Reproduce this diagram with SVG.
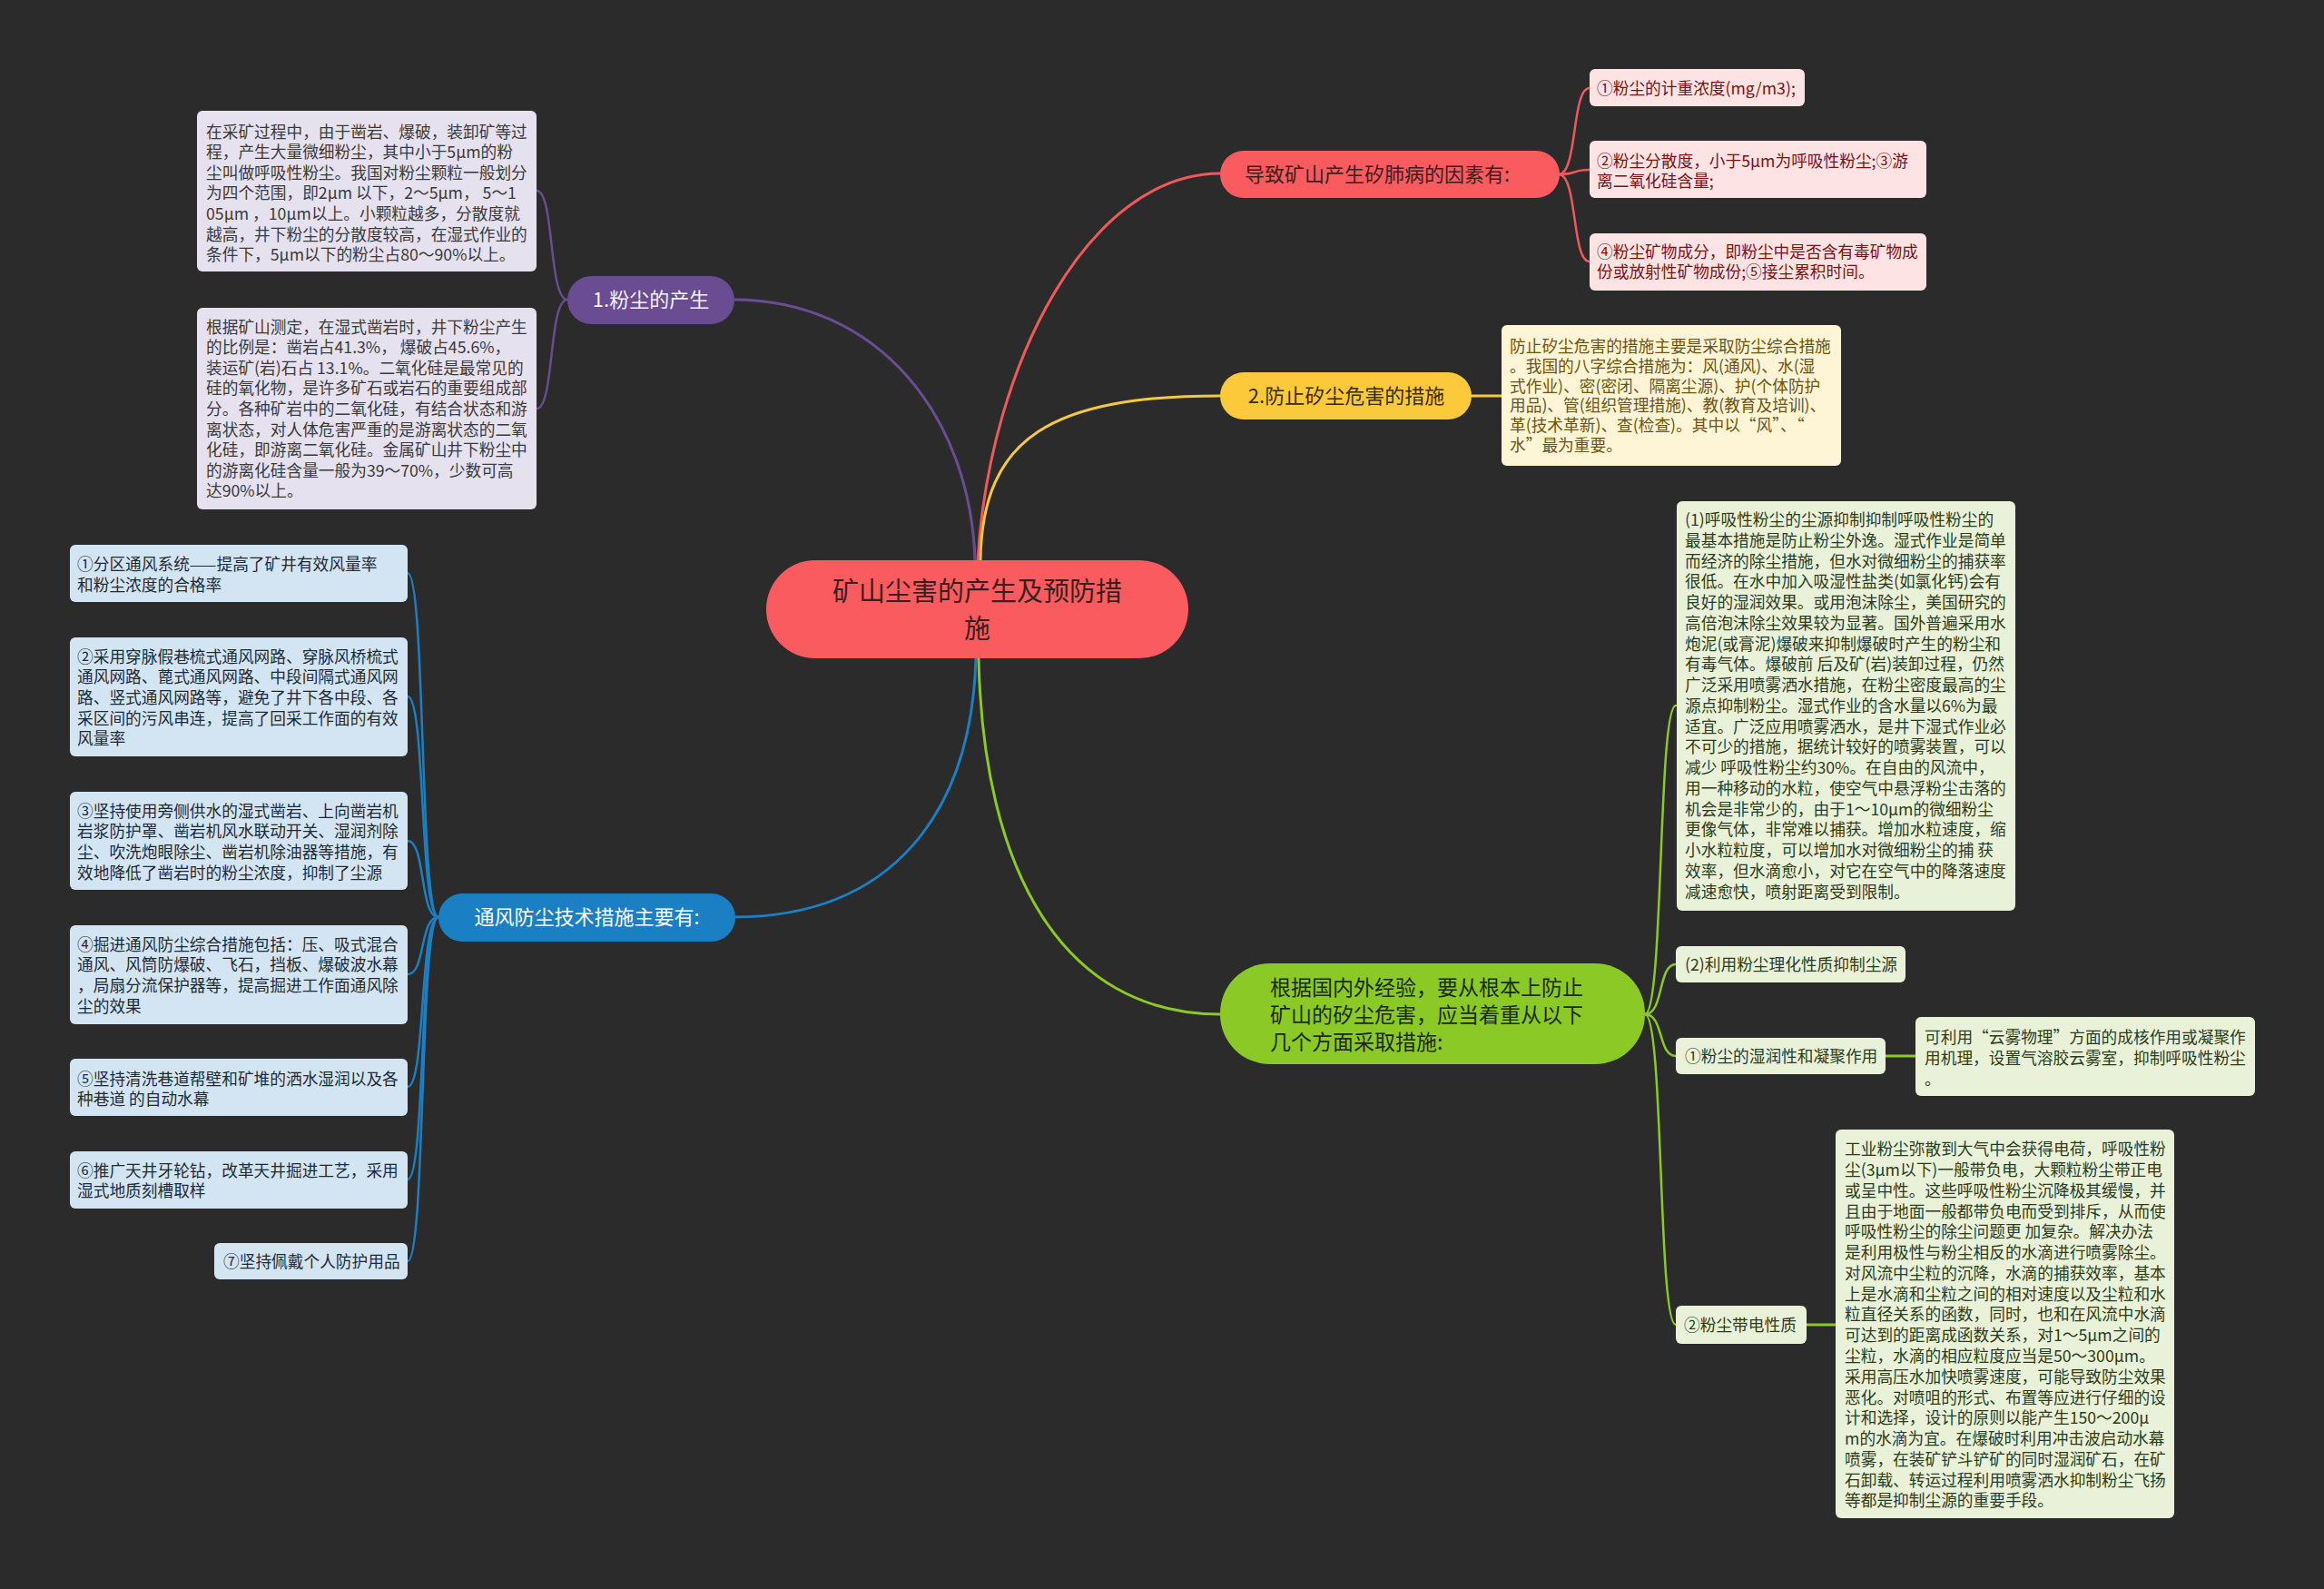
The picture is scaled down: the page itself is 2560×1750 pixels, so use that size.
<svg xmlns="http://www.w3.org/2000/svg" width="2560" height="1750" viewBox="0 0 2560 1750">
<style>
text{font-family:"Noto Sans CJK SC","Noto Sans",sans-serif;}
.leaf{font-size:17.7px;}
.lp{fill:#e6e1ef;} .tp{fill:#3a3a3a;}
.lb{fill:#d3e5f3;} .tb{fill:#1e2b36;}
.lr{fill:#fde3e4;} .tr{fill:#7a1212;}
.ly{fill:#fdf5d5;} .ty{fill:#6e5310;}
.lg{fill:#e9f2d9;} .tg{fill:#2c3b1a;}
.c{fill:none;stroke-linecap:round;}
.big{font-size:22px;}
.root{font-size:29px;fill:#3d1e1e;}
</style>
<rect width="2560" height="1750" fill="#2b2b2b"/>
<g id="connectors">
  <path class="c" stroke="#f0595c" stroke-width="3" d="M1077 617 C1090 400 1200 191 1344 191"/>
  <path class="c" stroke="#f5c842" stroke-width="3" d="M1080 617 C1082 481 1159 436 1344 436"/>
  <path class="c" stroke="#6a4c93" stroke-width="3" d="M1074 617 C1069 459 968 330 808 330"/>
  <path class="c" stroke="#1b7fc4" stroke-width="3" d="M1075 725 C1070 896 982 1010 808 1010"/>
  <path class="c" stroke="#8ac926" stroke-width="3" d="M1078 725 C1083 960 1171 1117 1344 1117"/>
  <g stroke="#f0595c" stroke-width="2.5" class="c">
    <path d="M1717 192 C1738 192 1731 97 1751 97"/>
    <path d="M1717 192 C1738 192 1731 187 1751 187"/>
    <path d="M1717 192 C1738 192 1731 288 1751 288"/>
  </g>
  <path class="c" stroke="#f5c842" stroke-width="3" d="M1621 436 H1654"/>
  <g stroke="#6a4c93" stroke-width="2.5" class="c">
    <path d="M625 330 C604 330 611 210 591 210"/>
    <path d="M625 330 C604 330 611 450 591 450"/>
  </g>
  <g stroke="#1b7fc4" stroke-width="2.5" class="c">
    <path d="M483 1010 C462 1010 469 631 449 631"/>
    <path d="M483 1010 C462 1010 469 767 449 767"/>
    <path d="M483 1010 C462 1010 469 926 449 926"/>
    <path d="M483 1010 C462 1010 469 1073 449 1073"/>
    <path d="M483 1010 C462 1010 469 1197 449 1197"/>
    <path d="M483 1010 C462 1010 469 1299 449 1299"/>
    <path d="M483 1010 C462 1010 469 1389 449 1389"/>
  </g>
  <g stroke="#8ac926" stroke-width="2.5" class="c">
    <path d="M1812 1117 C1833 1117 1826 777 1846 777"/>
    <path d="M1812 1117 C1833 1117 1826 1062 1846 1062"/>
    <path d="M1812 1117 C1833 1117 1826 1163 1846 1163"/>
    <path d="M1812 1117 C1833 1117 1826 1459 1846 1459"/>
    <path d="M2077 1163 H2110" stroke-width="3"/>
    <path d="M1990 1459 H2022" stroke-width="3"/>
  </g>
</g>
<g id="root">
  <rect x="844" y="617" width="465" height="108" rx="54" fill="#f95b5e"/>
  <text x="1076.5" y="662" class="root" text-anchor="middle">矿山尘害的产生及预防措</text>
  <text x="1076.5" y="703" class="root" text-anchor="middle">施</text>
</g>
<g id="n-red">
  <rect x="1344" y="166" width="374" height="52" rx="26" fill="#f95b5e"/>
  <text x="1371" y="200" class="big" fill="#3d1e1e">导致矿山产生矽肺病的因素有:</text>
</g>
<g id="n-red-1">
  <rect x="1751" y="76" width="237" height="41" rx="6" class="lr"/>
  <text x="1759" y="103.5" class="leaf tr">①粉尘的计重浓度(mg/m3);</text>
</g>
<g id="n-red-2">
  <rect x="1751" y="155" width="371" height="63" rx="6" class="lr"/>
  <text x="1759" y="183.5" class="leaf tr">②粉尘分散度，小于5μm为呼吸性粉尘;③游<tspan x="1759" dy="22">离二氧化硅含量;</tspan></text>
</g>
<g id="n-red-3">
  <rect x="1751" y="257" width="371" height="63" rx="6" class="lr"/>
  <text x="1759" y="284" class="leaf tr">④粉尘矿物成分，即粉尘中是否含有毒矿物成<tspan x="1759" dy="22">份或放射性矿物成份;⑤接尘累积时间。</tspan></text>
</g>
<g id="n-yellow">
  <rect x="1344" y="410" width="277" height="52" rx="26" fill="#fcc93b"/>
  <text x="1483" y="444" class="big" fill="#3a2a00" text-anchor="middle">2.防止矽尘危害的措施</text>
</g>
<g id="n-yellow-1">
  <rect x="1654" y="358" width="374" height="155" rx="6" class="ly"/>
  <text x="1663" y="388.2" class="leaf ty">防止矽尘危害的措施主要是采取防尘综合措施<tspan x="1663" dy="21.7">。我国的八字综合措施为：风(通风)、水(湿</tspan><tspan x="1663" dy="21.7">式作业)、密(密闭、隔离尘源)、护(个体防护</tspan><tspan x="1663" dy="21.7">用品)、管(组织管理措施)、教(教育及培训)、</tspan><tspan x="1663" dy="21.7">革(技术革新)、查(检查)。其中以“风”、“</tspan><tspan x="1663" dy="21.7">水”最为重要。</tspan></text>
</g>
<g id="n-purple">
  <rect x="625" y="304" width="184" height="53" rx="26.5" fill="#6a4c93"/>
  <text x="717" y="338" class="big" fill="#f4f0f8" text-anchor="middle">1.粉尘的产生</text>
</g>
<g id="n-purple-1">
  <rect x="217" y="122" width="374" height="177" rx="6" class="lp"/>
  <text x="227" y="151.5" class="leaf tp">在采矿过程中，由于凿岩、爆破，装卸矿等过<tspan x="227" dy="22.6">程，产生大量微细粉尘，其中小于5μm的粉</tspan><tspan x="227" dy="22.6">尘叫做呼吸性粉尘。我国对粉尘颗粒一般划分</tspan><tspan x="227" dy="22.6">为四个范围，即2μm 以下，2～5μm， 5～1</tspan><tspan x="227" dy="22.6">05μm ，10μm以上。小颗粒越多，分散度就</tspan><tspan x="227" dy="22.6">越高，井下粉尘的分散度较高，在湿式作业的</tspan><tspan x="227" dy="22.6">条件下，5μm以下的粉尘占80～90%以上。</tspan></text>
</g>
<g id="n-purple-2">
  <rect x="217" y="339" width="374" height="222" rx="6" class="lp"/>
  <text x="227" y="366.5" class="leaf tp">根据矿山测定，在湿式凿岩时，井下粉尘产生<tspan x="227" dy="22.6">的比例是：凿岩占41.3%， 爆破占45.6%，</tspan><tspan x="227" dy="22.6">装运矿(岩)石占 13.1%。二氧化硅是最常见的</tspan><tspan x="227" dy="22.6">硅的氧化物，是许多矿石或岩石的重要组成部</tspan><tspan x="227" dy="22.6">分。各种矿岩中的二氧化硅，有结合状态和游</tspan><tspan x="227" dy="22.6">离状态，对人体危害严重的是游离状态的二氧</tspan><tspan x="227" dy="22.6">化硅，即游离二氧化硅。金属矿山井下粉尘中</tspan><tspan x="227" dy="22.6">的游离化硅含量一般为39～70%，少数可高</tspan><tspan x="227" dy="22.6">达90%以上。</tspan></text>
</g>
<g id="n-blue">
  <rect x="483" y="984" width="327" height="53" rx="26.5" fill="#1b7fc4"/>
  <text x="646.5" y="1018" class="big" fill="#ffffff" text-anchor="middle">通风防尘技术措施主要有:</text>
</g>
<g id="n-blue-1">
  <rect x="77" y="600" width="372" height="63" rx="6" class="lb"/>
  <text x="85" y="628.2" class="leaf tb">①分区通风系统——提高了矿井有效风量率<tspan x="85" dy="22.7">和粉尘浓度的合格率</tspan></text>
</g>
<g id="n-blue-2">
  <rect x="77" y="702" width="372" height="131" rx="6" class="lb"/>
  <text x="85" y="729.5" class="leaf tb">②采用穿脉假巷梳式通风网路、穿脉风桥梳式<tspan x="85" dy="22.7">通风网路、蓖式通风网路、中段间隔式通风网</tspan><tspan x="85" dy="22.7">路、竖式通风网路等，避免了井下各中段、各</tspan><tspan x="85" dy="22.7">采区间的污风串连，提高了回采工作面的有效</tspan><tspan x="85" dy="22.7">风量率</tspan></text>
</g>
<g id="n-blue-3">
  <rect x="77" y="872" width="372" height="108" rx="6" class="lb"/>
  <text x="85" y="899.5" class="leaf tb">③坚持使用旁侧供水的湿式凿岩、上向凿岩机<tspan x="85" dy="22.7">岩浆防护罩、凿岩机风水联动开关、湿润剂除</tspan><tspan x="85" dy="22.7">尘、吹洗炮眼除尘、凿岩机除油器等措施，有</tspan><tspan x="85" dy="22.7">效地降低了凿岩时的粉尘浓度，抑制了尘源</tspan></text>
</g>
<g id="n-blue-4">
  <rect x="77" y="1019" width="372" height="109" rx="6" class="lb"/>
  <text x="85" y="1046.5" class="leaf tb">④掘进通风防尘综合措施包括：压、吸式混合<tspan x="85" dy="22.7">通风、风筒防爆破、飞石，挡板、爆破波水幕</tspan><tspan x="85" dy="22.7">，局扇分流保护器等，提高掘进工作面通风除</tspan><tspan x="85" dy="22.7">尘的效果</tspan></text>
</g>
<g id="n-blue-5">
  <rect x="77" y="1166" width="372" height="63" rx="6" class="lb"/>
  <text x="85" y="1194.5" class="leaf tb">⑤坚持清洗巷道帮壁和矿堆的洒水湿润以及各<tspan x="85" dy="22.7">种巷道 的自动水幕</tspan></text>
</g>
<g id="n-blue-6">
  <rect x="77" y="1268" width="372" height="63" rx="6" class="lb"/>
  <text x="85" y="1295.5" class="leaf tb">⑥推广天井牙轮钻，改革天井掘进工艺，采用<tspan x="85" dy="22.7">湿式地质刻槽取样</tspan></text>
</g>
<g id="n-blue-7">
  <rect x="236" y="1369" width="213" height="40" rx="6" class="lb"/>
  <text x="246" y="1395.5" class="leaf tb">⑦坚持佩戴个人防护用品</text>
</g>
<g id="n-green">
  <rect x="1344" y="1061" width="468" height="111" rx="55" fill="#8ac926"/>
  <text x="1399" y="1095.7" font-size="23" fill="#1b2a0c">根据国内外经验，要从根本上防止<tspan x="1399" dy="30">矿山的矽尘危害，应当着重从以下</tspan><tspan x="1399" dy="30">几个方面采取措施:</tspan></text>
</g>
<g id="n-green-1">
  <rect x="1847" y="552" width="373" height="451" rx="6" class="lg"/>
  <text x="1856" y="579.2" class="leaf tg">(1)呼吸性粉尘的尘源抑制抑制呼吸性粉尘的<tspan x="1856" dy="22.75">最基本措施是防止粉尘外逸。湿式作业是简单</tspan><tspan x="1856" dy="22.75">而经济的除尘措施，但水对微细粉尘的捕获率</tspan><tspan x="1856" dy="22.75">很低。在水中加入吸湿性盐类(如氯化钙)会有</tspan><tspan x="1856" dy="22.75">良好的湿润效果。或用泡沫除尘，美国研究的</tspan><tspan x="1856" dy="22.75">高倍泡沫除尘效果较为显著。国外普遍采用水</tspan><tspan x="1856" dy="22.75">炮泥(或膏泥)爆破来抑制爆破时产生的粉尘和</tspan><tspan x="1856" dy="22.75">有毒气体。爆破前 后及矿(岩)装卸过程，仍然</tspan><tspan x="1856" dy="22.75">广泛采用喷雾洒水措施，在粉尘密度最高的尘</tspan><tspan x="1856" dy="22.75">源点抑制粉尘。湿式作业的含水量以6%为最</tspan><tspan x="1856" dy="22.75">适宜。广泛应用喷雾洒水，是井下湿式作业必</tspan><tspan x="1856" dy="22.75">不可少的措施，据统计较好的喷雾装置，可以</tspan><tspan x="1856" dy="22.75">减少 呼吸性粉尘约30%。在自由的风流中，</tspan><tspan x="1856" dy="22.75">用一种移动的水粒，使空气中悬浮粉尘击落的</tspan><tspan x="1856" dy="22.75">机会是非常少的，由于1～10μm的微细粉尘</tspan><tspan x="1856" dy="22.75">更像气体，非常难以捕获。增加水粒速度，缩</tspan><tspan x="1856" dy="22.75">小水粒粒度，可以增加水对微细粉尘的捕 获</tspan><tspan x="1856" dy="22.75">效率，但水滴愈小，对它在空气中的降落速度</tspan><tspan x="1856" dy="22.75">减速愈快，喷射距离受到限制。</tspan></text>
</g>
<g id="n-green-2">
  <rect x="1846" y="1042" width="253" height="40" rx="6" class="lg"/>
  <text x="1856" y="1068.5" class="leaf tg">(2)利用粉尘理化性质抑制尘源</text>
</g>
<g id="n-green-3">
  <rect x="1846" y="1143" width="231" height="40" rx="6" class="lg"/>
  <text x="1856" y="1169.5" class="leaf tg">①粉尘的湿润性和凝聚作用</text>
</g>
<g id="n-green-3-1">
  <rect x="2110" y="1120" width="374" height="87" rx="6" class="lg"/>
  <text x="2120" y="1148.5" class="leaf tg">可利用“云雾物理”方面的成核作用或凝聚作<tspan x="2120" dy="23">用机理，设置气溶胶云雾室，抑制呼吸性粉尘</tspan><tspan x="2120" dy="23">。</tspan></text>
</g>
<g id="n-green-4">
  <rect x="1846" y="1438" width="144" height="42" rx="6" class="lg"/>
  <text x="1855" y="1465.5" class="leaf tg">②粉尘带电性质</text>
</g>
<g id="n-green-4-1">
  <rect x="2022" y="1244" width="373" height="428" rx="6" class="lg"/>
  <text x="2032" y="1272.2" class="leaf tg">工业粉尘弥散到大气中会获得电荷，呼吸性粉<tspan x="2032" dy="22.78">尘(3μm以下)一般带负电，大颗粒粉尘带正电</tspan><tspan x="2032" dy="22.78">或呈中性。这些呼吸性粉尘沉降极其缓慢，并</tspan><tspan x="2032" dy="22.78">且由于地面一般都带负电而受到排斥，从而使</tspan><tspan x="2032" dy="22.78">呼吸性粉尘的除尘问题更 加复杂。解决办法</tspan><tspan x="2032" dy="22.78">是利用极性与粉尘相反的水滴进行喷雾除尘。</tspan><tspan x="2032" dy="22.78">对风流中尘粒的沉降，水滴的捕获效率，基本</tspan><tspan x="2032" dy="22.78">上是水滴和尘粒之间的相对速度以及尘粒和水</tspan><tspan x="2032" dy="22.78">粒直径关系的函数，同时，也和在风流中水滴</tspan><tspan x="2032" dy="22.78">可达到的距离成函数关系，对1～5μm之间的</tspan><tspan x="2032" dy="22.78">尘粒，水滴的相应粒度应当是50～300μm。</tspan><tspan x="2032" dy="22.78">采用高压水加快喷雾速度，可能导致防尘效果</tspan><tspan x="2032" dy="22.78">恶化。对喷咀的形式、布置等应进行仔细的设</tspan><tspan x="2032" dy="22.78">计和选择，设计的原则以能产生150～200μ</tspan><tspan x="2032" dy="22.78">m的水滴为宜。在爆破时利用冲击波启动水幕</tspan><tspan x="2032" dy="22.78">喷雾，在装矿铲斗铲矿的同时湿润矿石，在矿</tspan><tspan x="2032" dy="22.78">石卸载、转运过程利用喷雾洒水抑制粉尘飞扬</tspan><tspan x="2032" dy="22.78">等都是抑制尘源的重要手段。</tspan></text>
</g>
</svg>
